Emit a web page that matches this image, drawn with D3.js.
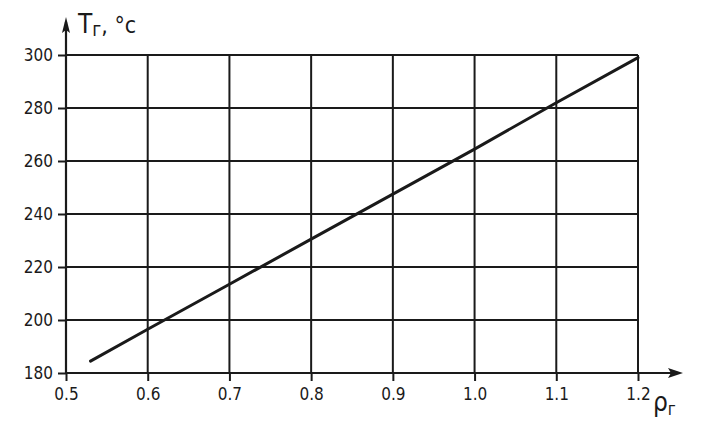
<!DOCTYPE html>
<html><head><meta charset="utf-8">
<script src="https://cdn.jsdelivr.net/npm/d3@7"></script>
<style>body{margin:0;background:#fff}svg{display:block}</style>
</head><body>
<svg id="c" width="707" height="436"></svg>
<script>
const xTicks = [0.5, 0.6, 0.7, 0.8, 0.9, 1.0, 1.1, 1.2];
const xTickLabels = ["0.5", "0.6", "0.7", "0.8", "0.9", "1.0", "1.1", "1.2"];
const yTicks = [180, 200, 220, 240, 260, 280, 300];
const rhoValues = [0.53, 0.6, 0.7, 0.8, 0.9, 1.0, 1.1, 1.2];
const tempValues = [184.5, 196.5, 213.5, 230.5, 247.5, 264.5, 282, 299];

const svg = d3.select("#c");
const x = d3.scaleLinear().domain([0.5, 1.2]).range([66, 638]);
const y = d3.scaleLinear().domain([180, 300]).range([373, 55]);
const ink = "#1a1a1a";
const font = "'DejaVu Sans Condensed', 'DejaVu Sans', sans-serif";

// grid
svg.append("g").selectAll("line").data(xTicks.slice(1)).join("line")
  .attr("x1", d => x(d)).attr("x2", d => x(d))
  .attr("y1", y(300)).attr("y2", y(180))
  .attr("stroke", ink).attr("stroke-width", 2);
svg.append("g").selectAll("line").data(yTicks.slice(1)).join("line")
  .attr("x1", x(0.5)).attr("x2", x(1.2))
  .attr("y1", d => y(d)).attr("y2", d => y(d))
  .attr("stroke", ink).attr("stroke-width", 2);

// axes
const xAxis = d3.axisBottom(x).tickValues(xTicks).tickFormat((d, i) => xTickLabels[i]).tickSize(8).tickPadding(7);
const gx = svg.append("g").attr("transform", `translate(0,${y(180)})`).call(xAxis);
gx.select(".domain").remove();
gx.selectAll(".tick line").attr("stroke", ink).attr("stroke-width", 2);
gx.selectAll(".tick text").attr("font-family", font).attr("font-size", 17).attr("fill", ink);

const yAxis = d3.axisLeft(y).tickValues(yTicks).tickSize(8).tickPadding(5);
const gy = svg.append("g").attr("transform", `translate(${x(0.5)},0)`).call(yAxis);
gy.select(".domain").remove();
gy.selectAll(".tick line").attr("stroke", ink).attr("stroke-width", 2);
gy.selectAll(".tick text").attr("font-family", font).attr("font-size", 17).attr("fill", ink);

// axis lines with arrows
svg.append("line").attr("x1", x(0.5)).attr("x2", 680).attr("y1", y(180)).attr("y2", y(180))
  .attr("stroke", ink).attr("stroke-width", 2.2);
svg.append("path").attr("d", `M683,${y(180)} L668,${y(180)-5} L671,${y(180)} L668,${y(180)+5} Z`).attr("fill", ink);
svg.append("line").attr("x1", x(0.5)).attr("x2", x(0.5)).attr("y1", y(180)).attr("y2", 22)
  .attr("stroke", ink).attr("stroke-width", 2.2);
svg.append("path").attr("d", `M${x(0.5)},17 L${x(0.5)-4},33 L${x(0.5)},30 L${x(0.5)+4},33 Z`).attr("fill", ink);

// data line
svg.append("path").datum(rhoValues.map((r, i) => [r, tempValues[i]]))
  .attr("d", d3.line().x(d => x(d[0])).y(d => y(d[1])))
  .attr("fill", "none").attr("stroke", ink).attr("stroke-width", 3).attr("stroke-linecap", "round");

// axis titles
const ty = svg.append("text").attr("x", 78).attr("y", 33).attr("font-family", font).attr("fill", ink);
ty.append("tspan").attr("font-size", 26).text("T");
ty.append("tspan").attr("font-size", 19).attr("dy", 3).text("г");
ty.append("tspan").attr("font-size", 23).attr("dy", -3).text(", °c");

const tx = svg.append("text").attr("x", 653).attr("y", 411).attr("font-family", font).attr("fill", ink);
tx.append("tspan").attr("font-size", 26).text("ρ");
tx.append("tspan").attr("font-size", 17).attr("dy", 4).text("г");
</script>
</body></html>
